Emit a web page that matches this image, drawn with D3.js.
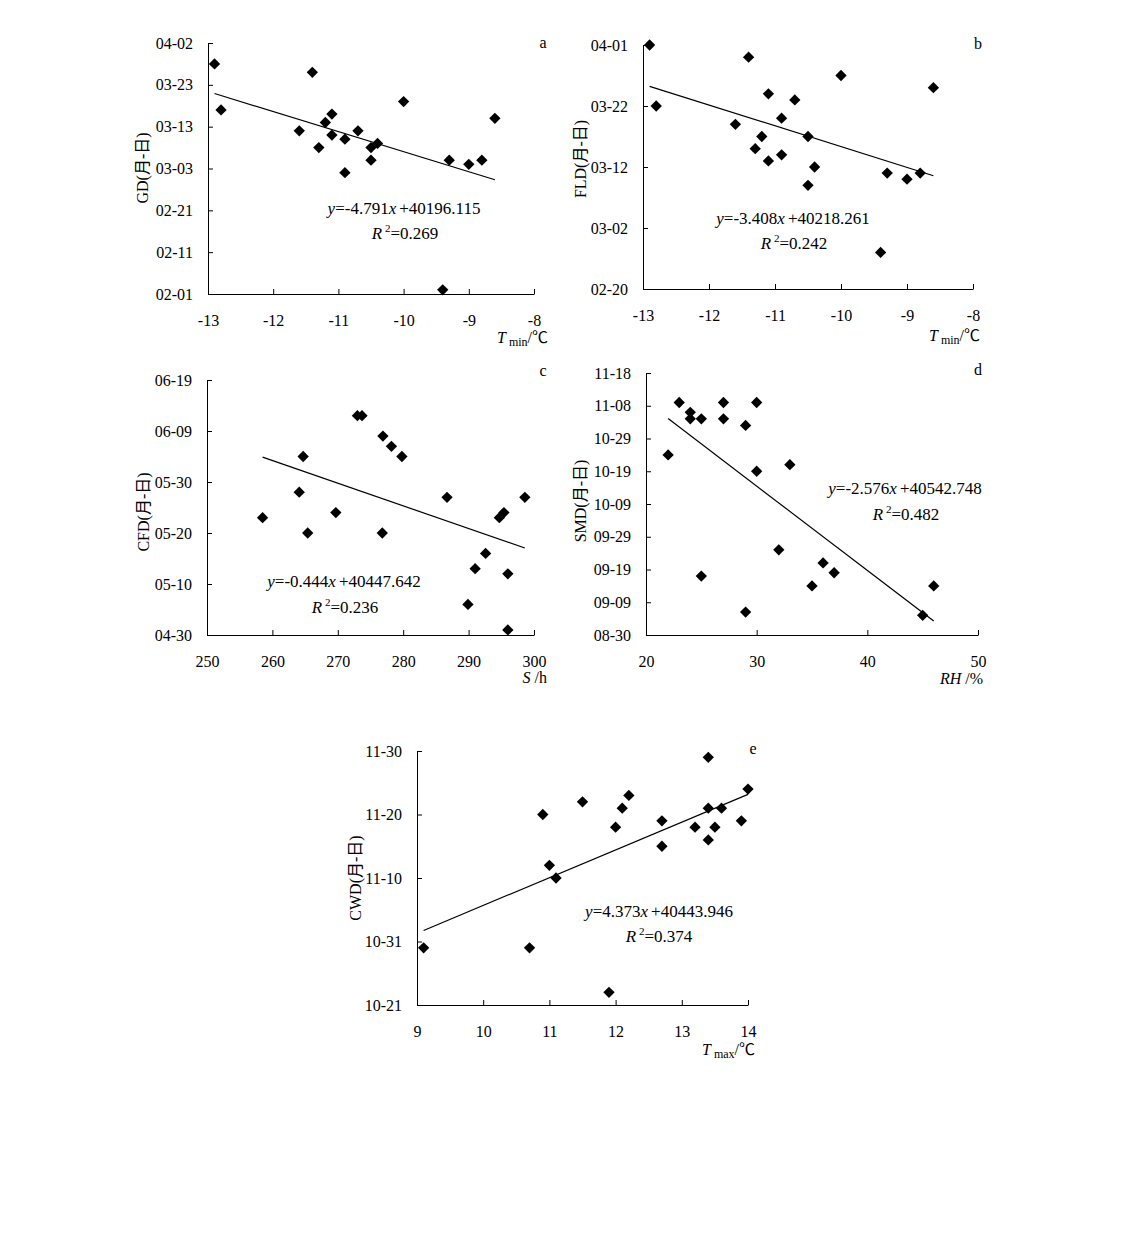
<!DOCTYPE html>
<html><head><meta charset="utf-8">
<script src="https://cdn.jsdelivr.net/npm/d3@7"></script>
<style>
body{margin:0;background:#fff}
text{font-family:"Liberation Serif","Times New Roman","Noto Sans CJK SC",serif;fill:#000}
</style>
</head><body>
<svg id="chart" width="1136" height="1240"></svg>
<script>
// ---------- data ----------
const tminTicks = [-13, -12, -11, -10, -9, -8];
const sunTicks = [250, 260, 270, 280, 290, 300];
const rhTicks = [20, 30, 40, 50];
const tmaxTicks = [9, 10, 11, 12, 13, 14];

const gdTicks = ["02-01","02-11","02-21","03-03","03-13","03-23","04-02"];
const fldTicks = ["02-20","03-02","03-12","03-22","04-01"];
const cfdTicks = ["04-30","05-10","05-20","05-30","06-09","06-19"];
const smdTicks = ["08-30","09-09","09-19","09-29","10-09","10-19","10-29","11-08","11-18"];
const cwdTicks = ["10-21","10-31","11-10","11-20","11-30"];

const gdTmin = [-12.9,-11.4,-12.8,-11.6,-11.2,-11.1,-11.1,-11.3,-10.9,-10.7,-10.9,-10.5,-10.4,-10.5,-10.0,-9.4,-9.3,-9.0,-8.8,-8.6];
const gdDate = ["03-28","03-26","03-17","03-12","03-14","03-16","03-11","03-08","03-10","03-12","03-02","03-08","03-09","03-05","03-19","02-02","03-05","03-04","03-05","03-15"];

const fldTmin = [-12.9,-11.4,-12.8,-11.6,-11.1,-10.7,-10.9,-11.2,-11.3,-10.9,-11.1,-10.5,-10.4,-10.5,-10.0,-9.4,-9.3,-9.0,-8.8,-8.6];
const fldDate = ["04-01","03-30","03-22","03-19","03-24","03-23","03-20","03-17","03-15","03-14","03-13","03-17","03-12","03-09","03-27","02-26","03-11","03-10","03-11","03-25"];

const cfdSun = [258.5,264.7,264.1,265.4,269.7,273.0,273.7,276.9,278.2,279.8,276.8,286.7,289.9,291.0,292.6,294.7,295.4,296.0,296.0,298.6];
const cfdDate = ["05-23","06-04","05-28","05-20","05-24","06-12","06-12","06-08","06-06","06-04","05-20","05-27","05-06","05-13","05-16","05-23","05-24","05-12","05-01","05-27"];

const smdRH = [22,23,24,24,25,27,27,29,30,30,33,25,29,32,35,36,37,45,46];
const smdDate = ["10-24","11-09","11-06","11-04","11-04","11-09","11-04","11-02","11-09","10-19","10-21","09-17","09-06","09-25","09-14","09-21","09-18","09-05","09-14"];

const cwdTmax = [9.1,10.7,10.9,11.0,11.1,11.5,11.9,12.0,12.1,12.2,12.7,12.7,13.2,13.4,13.4,13.4,13.5,13.6,13.9,14.0];
const cwdDate = ["10-30","10-30","11-20","11-12","11-10","11-22","10-23","11-18","11-21","11-23","11-19","11-15","11-18","11-29","11-21","11-16","11-18","11-21","11-19","11-24"];

const eqSlope = [-4.791, -3.408, -0.444, -2.576, 4.373];
const eqIntercept = [40196.115, 40218.261, 40447.642, 40542.748, 40443.946];
const eqR2 = [0.269, 0.242, 0.236, 0.482, 0.374];

const panelLetters = ["a","b","c","d","e"];
const yTitles = ["GD(月-日)","FLD(月-日)","CFD(月-日)","SMD(月-日)","CWD(月-日)"];
const xTitles = [["T","min","/℃"],["T","min","/℃"],["S",""," /h"],["RH",""," /%"],["T","max","/℃"]];

// ---------- helpers ----------
const YEAR = 2010;
function serial(md){
  const [m,d] = md.split("-").map(Number);
  return (Date.UTC(YEAR, m-1, d) - Date.UTC(1899, 11, 30)) / 864e5;
}

// ---------- layout ----------
const panels = [
  {xs: gdTmin, ys: gdDate, yt: gdTicks, xt: tminTicks, L:208, R:534, T:43, B:294, ytx:142, yty:168, eq:[404,214], r2:[405,239], lab:[543,48], xtp:[548,343]},
  {xs: fldTmin, ys: fldDate, yt: fldTicks, xt: tminTicks, L:643, R:973, T:45, B:289, ytx:580, yty:159, eq:[793,224], r2:[794,249], lab:[978,49], xtp:[980,341]},
  {xs: cfdSun, ys: cfdDate, yt: cfdTicks, xt: sunTicks, L:207, R:534, T:380, B:635, ytx:143, yty:512, eq:[344,587], r2:[345,613], lab:[543,376], xtp:[547,683]},
  {xs: smdRH, ys: smdDate, yt: smdTicks, xt: rhTicks, L:646, R:978, T:373, B:635, ytx:580, yty:501, eq:[905,494], r2:[906,520], lab:[978,375], xtp:[983,684]},
  {xs: cwdTmax, ys: cwdDate, yt: cwdTicks, xt: tmaxTicks, L:417, R:748, T:751, B:1005, ytx:355, yty:878, eq:[659,917], r2:[659,942], lab:[753,754], xtp:[755,1055]}
];

const svg = d3.select("#chart");
svg.append("rect").attr("width",1136).attr("height",1240).attr("fill","#fff");

panels.forEach((p, i) => {
  const g = svg.append("g");
  const x = d3.scaleLinear().domain([p.xt[0], p.xt[p.xt.length-1]]).range([p.L, p.R]);
  const yTickVals = p.yt.map(serial);
  const y = d3.scaleLinear().domain([yTickVals[0], yTickVals[yTickVals.length-1]]).range([p.B, p.T]);

  // axes
  const ya = g.append("g").attr("transform", `translate(${p.L},0)`)
    .call(d3.axisLeft(y).tickValues(yTickVals).tickFormat((d,k)=>p.yt[k]).tickSizeInner(-5).tickSizeOuter(0).tickPadding(15));
  const xa = g.append("g").attr("transform", `translate(0,${p.B})`)
    .call(d3.axisBottom(x).tickValues(p.xt).tickFormat(d=>String(d)).tickSizeInner(-5).tickSizeOuter(0).tickPadding(21));
  [ya, xa].forEach(a => {
    a.selectAll("path,line").attr("stroke","#000").attr("stroke-width",1);
    a.selectAll("text").attr("font-size",16).attr("fill","#000")
      .attr("font-family",'"Liberation Serif","Times New Roman",serif');
  });

  // trend line
  const ext = d3.extent(p.xs);
  const lineData = ext.map(v => [v, eqSlope[i]*v + eqIntercept[i]]);
  g.append("path")
    .attr("d", d3.line().x(d=>x(d[0])).y(d=>y(d[1]))(lineData))
    .attr("stroke","#000").attr("stroke-width",1.2).attr("fill","none");

  // points
  const sym = d3.symbol().type(d3.symbolSquare).size(64);
  g.selectAll("path.pt").data(p.xs.map((v,k)=>[v, serial(p.ys[k])])).enter()
    .append("path").attr("class","pt")
    .attr("d", sym)
    .attr("transform", d => `translate(${x(d[0])},${y(d[1])}) rotate(45)`)
    .attr("fill","#000");

  // y title
  g.append("text")
    .attr("transform", `translate(${p.ytx},${p.yty}) rotate(-90)`)
    .attr("text-anchor","middle").attr("dominant-baseline","central")
    .attr("font-size",16).attr("fill","#222")
    .text(yTitles[i]);

  // x title
  const xt = g.append("text").attr("x", p.xtp[0]).attr("y", p.xtp[1])
    .attr("text-anchor","end").attr("font-size",16);
  xt.append("tspan").attr("font-style","italic").text(xTitles[i][0]);
  if (xTitles[i][1]) {
    xt.append("tspan").attr("font-size",12).attr("dx",3).attr("dy",3).text(xTitles[i][1]);
    xt.append("tspan").attr("dy",-3).text(xTitles[i][2]);
  } else {
    xt.append("tspan").text(xTitles[i][2]);
  }

  // panel letter
  g.append("text").attr("x", p.lab[0]).attr("y", p.lab[1])
    .attr("text-anchor","middle").attr("font-size",16).text(panelLetters[i]);

  // equation
  const eq = g.append("text").attr("x", p.eq[0]).attr("y", p.eq[1])
    .attr("text-anchor","middle").attr("font-size",17);
  eq.append("tspan").attr("font-style","italic").text("y");
  eq.append("tspan").text("=" + eqSlope[i].toFixed(3));
  eq.append("tspan").attr("font-style","italic").text("x");
  eq.append("tspan").attr("dx",3).text("+" + eqIntercept[i].toFixed(3));

  const r2 = g.append("text").attr("x", p.r2[0]).attr("y", p.r2[1])
    .attr("text-anchor","middle").attr("font-size",17);
  r2.append("tspan").attr("font-style","italic").text("R");
  r2.append("tspan").attr("font-size",11).attr("dx",3).attr("dy",-7).text("2");
  r2.append("tspan").attr("dy",7).text("=" + eqR2[i].toFixed(3));
});
</script>
</body></html>
